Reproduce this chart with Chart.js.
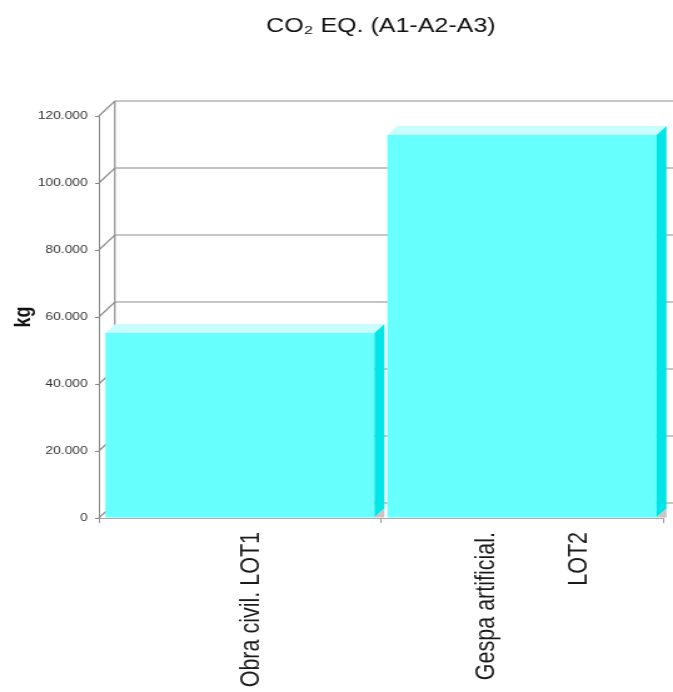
<!DOCTYPE html>
<html>
<head>
<meta charset="utf-8">
<script src="https://cdn.jsdelivr.net/npm/chart.js@4.4.1/dist/chart.umd.min.js"></script>
<style>
    html, body { margin: 0; padding: 0; background: #fff; overflow: hidden; }
    /* the original picture is stretched sideways, so the canvas is too */
    #myChart { display: block; transform: scaleX(1.2509); transform-origin: 0 0; }
</style>
</head>
<body>
<canvas id="myChart" width="538" height="692"></canvas>
<script>
const categories = [['Obra civil. LOT1'], ['Gespa artificial.', 'LOT2']];
const co2Values = [55200, 114300];
const yTickLabels = ['0', '20.000', '40.000', '60.000', '80.000', '100.000', '120.000'];

const WALL = { dx: 12.8, dy: -15 };
const BAR_DEPTH = { dx: 8, dy: -9 };

Chart.defaults.font.family = '"Liberation Sans", Arial, sans-serif';

// back wall, diagonals and the 3d faces of the bars
const box3d = {
    id: 'box3d',
    beforeDatasetsDraw(chart) {
        const { ctx, chartArea: { left, right, top, bottom }, scales: { y } } = chart;
        ctx.save();
        ctx.strokeStyle = '#8c8c8c';
        ctx.lineWidth = 1.2;
        ctx.beginPath();
        y.ticks.forEach(t => {
            const py = y.getPixelForValue(t.value);
            ctx.moveTo(left, py);
            ctx.lineTo(left + WALL.dx, py + WALL.dy);
            ctx.lineTo(right + WALL.dx, py + WALL.dy);
        });
        ctx.moveTo(left + WALL.dx, top + WALL.dy);
        ctx.lineTo(left + WALL.dx, bottom + WALL.dy);
        ctx.stroke();
        ctx.restore();
    },
    afterDatasetsDraw(chart) {
        const { ctx } = chart;
        const { dx, dy } = BAR_DEPTH;
        ctx.save();
        chart.getDatasetMeta(0).data.forEach(bar => {
            const l = bar.x - bar.width / 2;
            const r = bar.x + bar.width / 2;
            const t = bar.y;
            const b = bar.base;

            ctx.fillStyle = '#c9fdfd';
            ctx.beginPath();
            ctx.moveTo(l, t);
            ctx.lineTo(l + dx, t + dy);
            ctx.lineTo(r + dx, t + dy);
            ctx.lineTo(r, t);
            ctx.closePath();
            ctx.fill();

            ctx.fillStyle = '#00e6e6';
            ctx.beginPath();
            ctx.moveTo(r, t);
            ctx.lineTo(r + dx, t + dy);
            ctx.lineTo(r + dx, b + dy);
            ctx.lineTo(r, b);
            ctx.closePath();
            ctx.fill();

            ctx.fillStyle = '#cdc3c3';
            ctx.beginPath();
            ctx.moveTo(r, b);
            ctx.lineTo(r + dx, b + dy);
            ctx.lineTo(r + dx, b);
            ctx.closePath();
            ctx.fill();
        });
        ctx.restore();
    }
};

// rotated category labels, placed from the x scale
const xLabels = {
    id: 'xLabels',
    afterDraw(chart) {
        const { ctx, scales: { x } } = chart;
        ctx.save();
        ctx.font = '21.5px "Liberation Sans", Arial, sans-serif';
        ctx.fillStyle = '#1a1a1a';
        ctx.textAlign = 'right';
        ctx.textBaseline = 'middle';
        categories.forEach((lines, i) => {
            const cx = x.getPixelForTick(i) + 9;
            lines.forEach((line, j) => {
                ctx.save();
                ctx.translate(cx + (j - (lines.length - 1) / 2) * 74, x.top + 14);
                ctx.rotate(-Math.PI / 2);
                ctx.fillText(line, 0, 0);
                ctx.restore();
            });
        });
        ctx.restore();
    }
};

new Chart(document.getElementById('myChart'), {
    type: 'bar',
    data: {
        labels: categories.map(c => c.join(' ')),
        datasets: [{
            data: co2Values,
            backgroundColor: '#68ffff',
            borderWidth: 0,
            barPercentage: 0.954,
            categoryPercentage: 1,
        }],
    },
    options: {
        responsive: false,
        animation: false,
        devicePixelRatio: 1,
        layout: { padding: { left: 0, right: 8, top: 0, bottom: 0 } },
        plugins: {
            legend: { display: false },
            tooltip: { enabled: false },
            title: {
                display: true,
                text: 'CO₂ EQ. (A1-A2-A3)',
                fullSize: false,
                color: '#111',
                font: { size: 20, weight: 'normal' },
                padding: { top: 14, bottom: 78 },
            },
        },
        scales: {
            x: {
                grid: { drawOnChartArea: false, tickLength: 5, color: '#999' },
                border: { color: '#aaa' },
                ticks: { display: false },
                afterFit: s => { s.height = 174; s.paddingLeft = 0; s.paddingRight = 0; },
            },
            y: {
                min: 0,
                max: 120000,
                ticks: {
                    stepSize: 20000,
                    padding: 6,
                    color: '#333',
                    font: { size: 11 },
                    callback: (value, index) => yTickLabels[index],
                },
                grid: { drawOnChartArea: false, tickLength: 3, color: '#888' },
                border: { color: '#888' },
                title: {
                    display: true,
                    text: 'kg',
                    color: '#111',
                    font: { size: 18, weight: 'bold' },
                    padding: { top: 8, bottom: 0 },
                },
                afterFit: s => { s.width = 79; },
            },
        },
    },
    plugins: [box3d, xLabels],
});
</script>
</body>
</html>
